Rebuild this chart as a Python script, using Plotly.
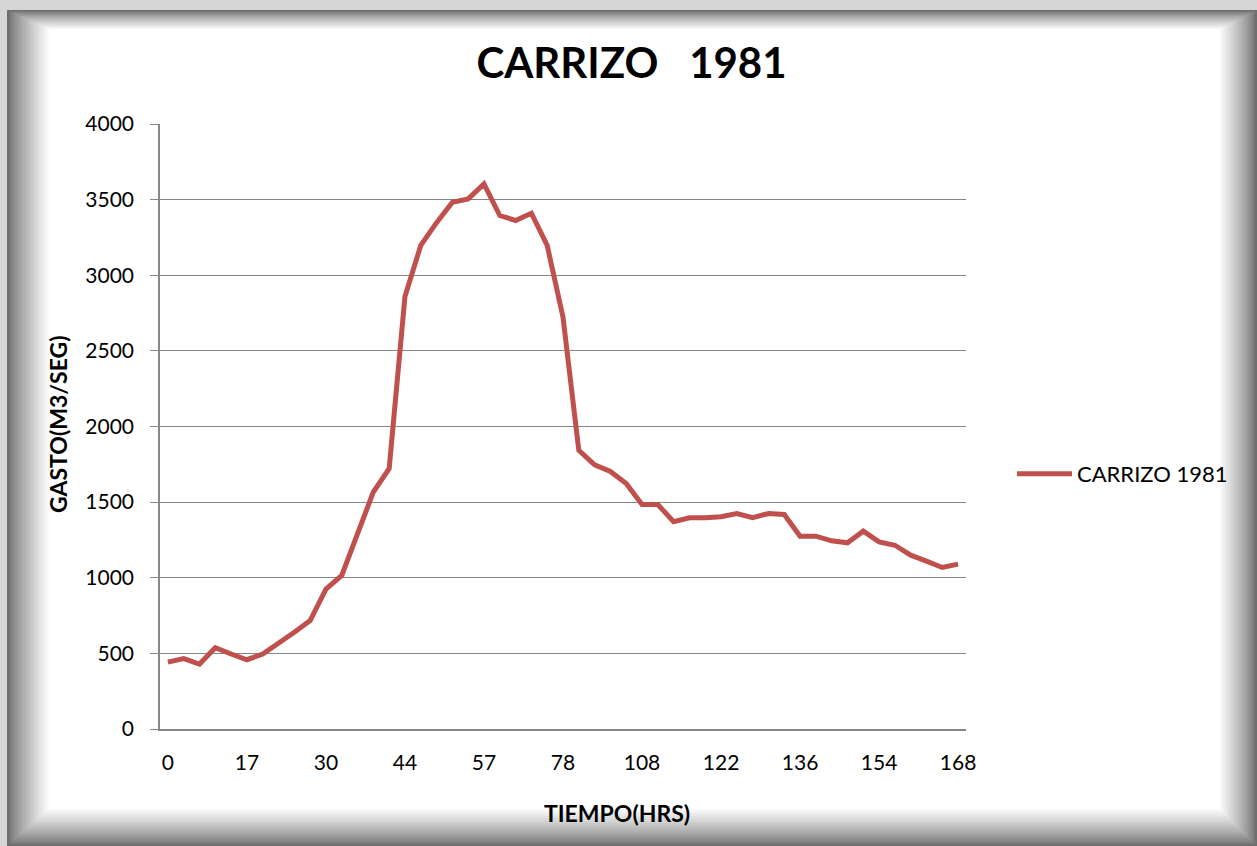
import plotly.graph_objects as go

# datos (hidrograma Carrizo 1981)

horas = [0, 3, 6, 10, 13, 17, 20, 22, 25, 27, 30, 33, 36, 38, 41, 44, 47, 49, 52, 54, 57,
         61, 65, 70, 74, 78, 84, 90, 96, 102, 108, 111, 114, 116, 119, 122, 125, 128, 130,
         133, 136, 140, 143, 147, 150, 154, 157, 160, 162, 165, 168]

gasto = [442, 465, 429, 537, 496, 458, 495, 563, 640, 717, 925, 1015, 1300, 1567, 1722,
         2860, 3197, 3348, 3483, 3505, 3604, 3395, 3362, 3410, 3197, 2723, 1843, 1747,
         1703, 1623, 1484, 1484, 1370, 1396, 1396, 1403, 1425, 1397, 1425, 1418, 1275,
         1275, 1244, 1231, 1308, 1237, 1215, 1149, 1110, 1068, 1090]

etiquetas_x = [0, 17, 30, 44, 57, 78, 108, 122, 136, 154, 168]

categorias = [str(h) for h in horas]
ticks_x = [str(h) for h in etiquetas_x]

W, H = 1257, 846
L, R, T, B = 160, 966, 124, 729


def px_x(p):
    return (p - L) / (R - L)


def px_y(p):
    return (B - p) / (B - T)


# marco con sombra tipo Excel
shapes = [dict(type="rect", xref="paper", yref="paper", layer="below",
               x0=px_x(0), x1=px_x(W), y0=px_y(H), y1=px_y(0),
               fillcolor="#d6d6d6", line_width=0)]
n = 16
for i in range(n + 1):
    g = int(110 + (255 - 110) * (i / n) ** 0.8)
    col = "rgb(%d,%d,%d)" % (g, g, g)
    shapes.append(dict(type="rect", xref="paper", yref="paper", layer="below",
                       x0=px_x(7 + i * 2.6), x1=px_x(W - i * 2.3),
                       y0=px_y(H - i * 2.3), y1=px_y(10 + i * 1.2),
                       fillcolor=col, line_width=0))

fig = go.Figure()

fig.add_trace(go.Scatter(x=categorias, y=gasto, mode="lines", name="CARRIZO 1981",
                         line=dict(color="#C0504D", width=5)))

fig.update_layout(
    width=W, height=H,
    margin=dict(l=L, r=W - R, t=T, b=H - B),
    paper_bgcolor="#ffffff",
    plot_bgcolor="rgba(0,0,0,0)",
    font=dict(family="Lato", color="#000000"),
    title=dict(text="<b>CARRIZO   1981</b>", x=631.5 / W, xanchor="center",
               y=1 - 63 / H, yanchor="middle", xref="container", yref="container",
               font=dict(size=42, family="Lato")),
    showlegend=True,
    legend=dict(x=px_x(1012), xanchor="left", y=px_y(474), yanchor="middle",
                font=dict(size=22, family="Lato"), bgcolor="rgba(0,0,0,0)",
                itemwidth=55),
    shapes=shapes,
)

fig.update_xaxes(type="category", range=[-0.5, len(categorias) - 0.5],
                 tickmode="array", tickvals=ticks_x, ticktext=ticks_x,
                 showgrid=False, showline=True, linecolor="#868686", linewidth=1.5,
                 ticks="", tickfont=dict(size=21, family="Lato"),
                 ticklabelstandoff=14, zeroline=False)

fig.update_yaxes(range=[0, 4000], dtick=500, showgrid=True, gridcolor="#868686",
                 gridwidth=1.2, showline=True, linecolor="#868686", linewidth=1.5,
                 ticks="outside", ticklen=8, tickcolor="#868686",
                 tickfont=dict(size=21, family="Lato"), ticklabelstandoff=12,
                 zeroline=False)

fig.add_annotation(text="<b>GASTO(M3/SEG)</b>", xref="paper", yref="paper",
                   x=px_x(58), y=px_y(424), xanchor="center", yanchor="middle",
                   textangle=-90, showarrow=False,
                   font=dict(size=23, family="Lato"))
fig.add_annotation(text="<b>TIEMPO(HRS)</b>", xref="paper", yref="paper",
                   x=px_x(617), y=px_y(813), xanchor="center", yanchor="middle",
                   showarrow=False, font=dict(size=23, family="Lato"))

# quitar el margen del body para que la figura empiece en (0,0)
fig.write_html("out.html", config={"displayModeBar": False},
               post_script="document.body.style.margin='0';")
